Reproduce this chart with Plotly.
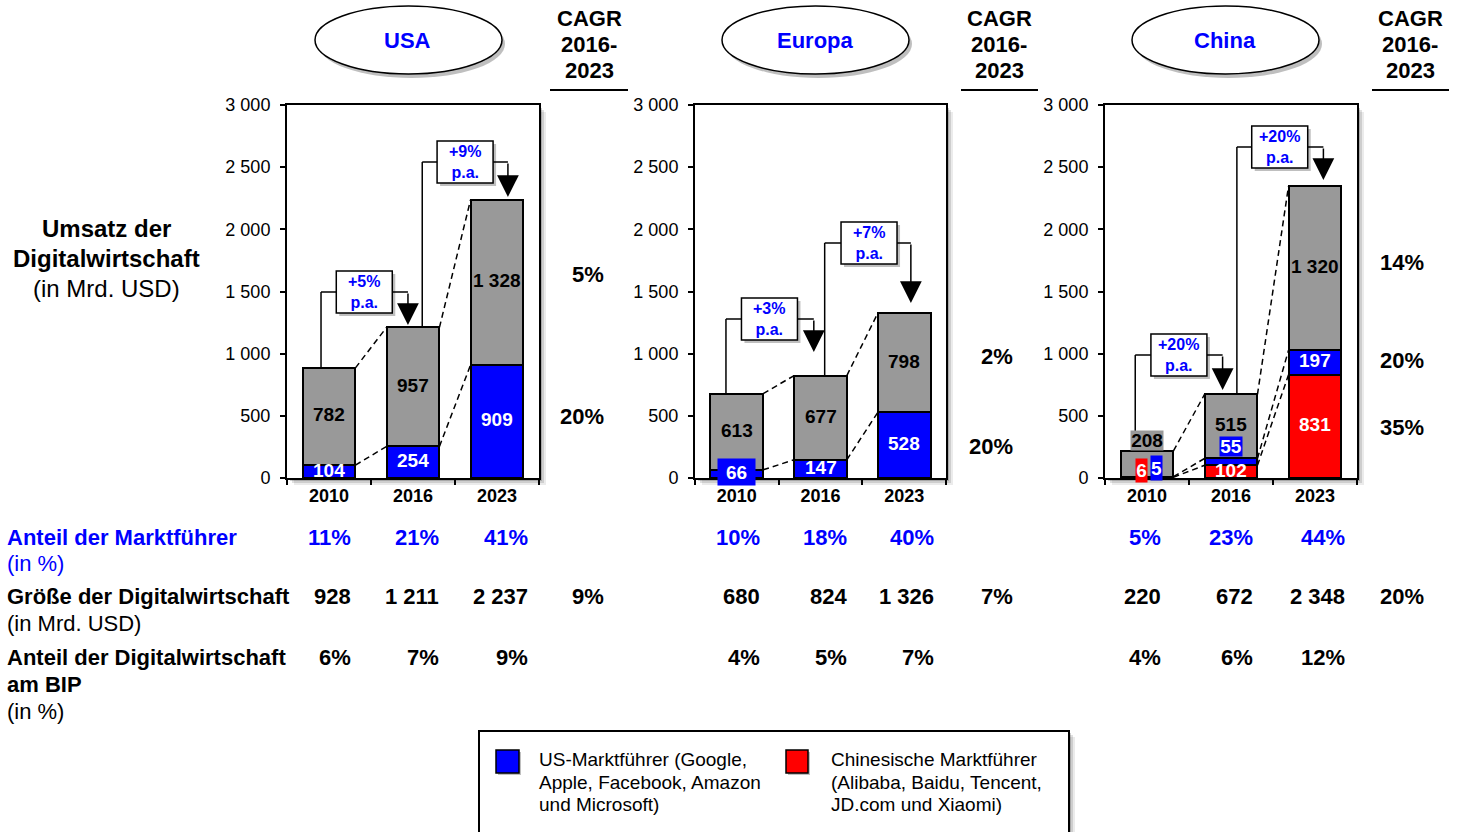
import plotly.graph_objects as go

W, H = 1459, 832
FONT = "Liberation Sans, Arial, Helvetica, sans-serif"
BLUE, RED, GRAY = "#0000FF", "#FF0000", "#999999"

# ---------------- data ----------------
years = ["2010", "2016", "2023"]

usa_leader = [104, 254, 909]
usa_rest = [782, 957, 1328]
eu_leader = [66, 147, 528]
eu_rest = [613, 677, 798]
cn_cn_leader = [6, 102, 831]
cn_us_leader = [5, 55, 197]
cn_rest = [208, 515, 1320]

usa_growth = ["+5%", "+9%"]
eu_growth = ["+3%", "+7%"]
cn_growth = ["+20%", "+20%"]

usa_cagr = ["20%", "5%"]          # bottom segment -> top segment
eu_cagr = ["20%", "2%"]
cn_cagr = ["35%", "20%", "14%"]

usa_share = ["11%", "21%", "41%"]
eu_share = ["10%", "18%", "40%"]
cn_share = ["5%", "23%", "44%"]

usa_size = [928, 1211, 2237]
eu_size = [680, 824, 1326]
cn_size = [220, 672, 2348]
usa_size_cagr, eu_size_cagr, cn_size_cagr = "9%", "7%", "20%"

usa_gdp = ["6%", "7%", "9%"]
eu_gdp = ["4%", "5%", "7%"]
cn_gdp = ["4%", "6%", "12%"]

y_tick_vals = [0, 500, 1000, 1500, 2000, 2500, 3000]
y_tick_text = ["0", "500", "1 000", "1 500", "2 000", "2 500", "3 000"]

legend_us = ["US-Marktführer (Google,", "Apple, Facebook, Amazon", "und Microsoft)"]
legend_cn = ["Chinesische Marktführer", "(Alibaba, Baidu, Tencent,", "JD.com und Xiaomi)"]

# ---------------- layout helpers ----------------
def px(x):
    return x / W


def py(y):
    return 1 - y / H


def fmt(v):
    return f"{v:,}".replace(",", " ")


def text(x, y, t, size, color="black", xanchor="center", **kw):
    d = dict(xref="paper", yref="paper", x=px(x), y=py(y), text=t, showarrow=False,
             xanchor=xanchor, yanchor="middle", font=dict(family=FONT, size=size, color=color))
    d.update(kw)
    return d


BW = 0.63
PLOT_TOP, PLOT_BOT = 105, 478

regions = [
    dict(name="USA", x=(287, 539), segs=[(usa_leader, BLUE, "white"), (usa_rest, GRAY, "black")],
         growth=usa_growth, cagr=usa_cagr, cagr_shift=[5, 8], cagr_x=606,
         share=usa_share, size=usa_size, size_cagr=usa_size_cagr, gdp=usa_gdp,
         cols=[353, 441, 530], head_x=408, cagr_head_x=589, line=(550, 628),
         brackets=[dict(lx=-0.095, rx=0.94, level=1496, gap=20, bx=0.42),
                   dict(lx=1.11, rx=2.13, level=2541, gap=23, bx=1.62)]),
    dict(name="Europa", x=(695, 946), segs=[(eu_leader, BLUE, "white"), (eu_rest, GRAY, "black")],
         growth=eu_growth, cagr=eu_cagr, cagr_shift=[-1, 6], cagr_x=1015,
         share=eu_share, size=eu_size, size_cagr=eu_size_cagr, gdp=eu_gdp,
         cols=[762, 849, 936], head_x=815, cagr_head_x=999, line=(961, 1038),
         brackets=[dict(lx=-0.13, rx=0.92, level=1279, gap=189, bx=0.39),
                   dict(lx=1.05, rx=2.08, level=1890, gap=82, bx=1.58)]),
    dict(name="China", x=(1105, 1357),
         segs=[(cn_cn_leader, RED, "white"), (cn_us_leader, BLUE, "white"), (cn_rest, GRAY, "black")],
         growth=cn_growth, cagr=cn_cagr, cagr_shift=[-1, 2, 6], cagr_x=1426,
         share=cn_share, size=cn_size, size_cagr=cn_size_cagr, gdp=cn_gdp,
         cols=[1163, 1255, 1347], head_x=1225, cagr_head_x=1410, line=(1372, 1449),
         brackets=[dict(lx=-0.14, rx=0.9, level=989, gap=36, bx=0.38),
                   dict(lx=1.07, rx=2.1, level=2662, gap=49, bx=1.58)]),
]

# special label styles: (region, segment, bar) -> options
special = {
    ("Europa", 0, 0): dict(bgcolor=BLUE, width=37, height=26, yshift=2),
    ("China", 0, 0): dict(bgcolor=RED, width=11, height=23, xshift=-5.5, yshift=7.5),
    ("China", 1, 0): dict(bgcolor=BLUE, width=11, height=24, xshift=9.5, yshift=9),
    ("China", 1, 1): dict(bgcolor=BLUE, width=22, height=19, yshift=15),
    ("China", 2, 0): dict(bgcolor=GRAY, width=32, height=19, on_top=True),
}

fig = go.Figure()
shapes, annos = [], []
layout_axes = {}

for k, r in enumerate(regions, start=1):
    xa = "x" if k == 1 else f"x{k}"
    ya = "y" if k == 1 else f"y{k}"
    x0p, x1p = r["x"]

    # frame shadow + white plot area
    for off, a in [(7, 0.08), (5, 0.12), (3, 0.18)]:
        shapes.append(dict(type="rect", xref="paper", yref="paper", layer="below",
                           x0=px(x0p + off), x1=px(x1p + off), y0=py(PLOT_BOT + off), y1=py(PLOT_TOP + off),
                           line=dict(width=0), fillcolor=f"rgba(0,0,0,{a})"))
    shapes.append(dict(type="rect", xref="paper", yref="paper", layer="below",
                       x0=px(x0p), x1=px(x1p), y0=py(PLOT_BOT), y1=py(PLOT_TOP),
                       line=dict(width=0), fillcolor="white"))

    # bars
    base = [0, 0, 0]
    tops = []
    for s, (vals, col, tcol) in enumerate(r["segs"]):
        fig.add_trace(go.Bar(x=[0, 1, 2], y=vals, width=BW, marker=dict(color=col, line=dict(color="black", width=2)),
                             xaxis=xa, yaxis=ya, showlegend=False, hoverinfo="skip"))
        for i, v in enumerate(vals):
            opt = special.get((r["name"], s, i), {})
            a = dict(xref=xa, yref=ya, x=i, y=base[i] + v / 2, text=f"<b>{fmt(v)}</b>", showarrow=False,
                     xanchor="center", yanchor="middle", yshift=1.5,
                     font=dict(family=FONT, size=19, color=tcol))
            if opt.get("on_top"):
                a["y"] = base[i] + v
                a["yanchor"] = "bottom"
                a["yshift"] = 0
            for key in ("bgcolor", "width", "height", "xshift", "yshift"):
                if key in opt:
                    a[key] = opt[key]
            if "bgcolor" in opt:
                a["borderpad"] = 0
            annos.append(a)
        base = [b + v for b, v in zip(base, vals)]
        tops.append(list(base))

    # dashed connectors between consecutive bars
    for lvl in tops:
        for i in range(2):
            fig.add_trace(go.Scatter(x=[i + BW / 2, i + 1 - BW / 2], y=[lvl[i], lvl[i + 1]], mode="lines",
                                     line=dict(color="black", width=1.5, dash="6px,4px"),
                                     xaxis=xa, yaxis=ya, showlegend=False, hoverinfo="skip"))

    totals = tops[-1]
    # growth brackets
    for i, (b, g) in enumerate(zip(r["brackets"], r["growth"])):
        shapes.append(dict(type="line", xref=xa, yref=ya, x0=b["lx"], x1=b["lx"], y0=totals[i], y1=b["level"],
                           line=dict(color="black", width=1.5)))
        shapes.append(dict(type="line", xref=xa, yref=ya, x0=b["lx"], x1=b["rx"], y0=b["level"], y1=b["level"],
                           line=dict(color="black", width=1.5)))
        annos.append(dict(xref=xa, yref=ya, x=b["rx"], y=totals[i + 1] + b["gap"], axref=xa, ayref=ya,
                          ax=b["rx"], ay=b["level"], text="", showarrow=True, arrowhead=2, arrowsize=2.9,
                          arrowwidth=1.5, arrowcolor="black"))
        # box shadow and box (pixel-sized shapes anchored in data coords)
        for (dx, dy, fill, lw) in [(3, -3, "rgba(0,0,0,0.25)", 0), (0, 0, "white", 1.5)]:
            shapes.append(dict(type="rect", xref=xa, yref=ya, xsizemode="pixel", ysizemode="pixel",
                               xanchor=b["bx"], yanchor=b["level"], x0=-28 + dx, x1=28 + dx,
                               y0=-21 + dy, y1=21 + dy, fillcolor=fill,
                               line=dict(color="black", width=lw)))
        annos.append(dict(xref=xa, yref=ya, x=b["bx"], y=b["level"], text=f"<b>{g}<br>p.a.</b>",
                          showarrow=False, xanchor="center", yanchor="middle",
                          font=dict(family=FONT, size=16, color=BLUE)))

    # CAGR values beside the plot (aligned with 2023 segments)
    for s, (txt, sh) in enumerate(zip(r["cagr"], r["cagr_shift"])):
        lo = tops[s - 1][2] if s > 0 else 0
        hi = tops[s][2]
        annos.append(dict(xref="paper", yref=ya, x=px(r["cagr_x"]), y=(lo + hi) / 2, yshift=sh,
                          xanchor="right", yanchor="middle", text=f"<b>{txt}</b>", showarrow=False,
                          font=dict(family=FONT, size=22, color="black")))

    # header ellipse
    hx = r["head_x"]
    shapes.append(dict(type="circle", xref="paper", yref="paper", layer="below",
                       x0=px(hx - 93 + 3), x1=px(hx + 94 + 3), y0=py(74 + 4), y1=py(6 + 4),
                       line=dict(width=0), fillcolor="rgba(0,0,0,0.25)"))
    shapes.append(dict(type="circle", xref="paper", yref="paper", layer="below",
                       x0=px(hx - 93), x1=px(hx + 94), y0=py(74), y1=py(6),
                       line=dict(color="black", width=1.5), fillcolor="white"))
    annos.append(text(hx, 40, f"<b>{r['name']}</b>", 22, BLUE))
    for t, yy in zip(["CAGR", "2016-", "2023"], [18, 44, 70]):
        annos.append(text(r["cagr_head_x"], yy, f"<b>{t}</b>", 22))
    shapes.append(dict(type="line", xref="paper", yref="paper", x0=px(r["line"][0]), x1=px(r["line"][1]),
                       y0=py(90), y1=py(90), line=dict(color="black", width=2)))

    # table values
    for xr, s1, s2, s3 in zip(r["cols"], r["share"], r["size"], r["gdp"]):
        annos.append(text(xr, 537, f"<b>{s1}</b>", 22, BLUE, xanchor="right"))
        annos.append(text(xr, 596, f"<b>{fmt(s2)}</b>", 22, xanchor="right"))
        annos.append(text(xr, 657, f"<b>{s3}</b>", 22, xanchor="right"))
    annos.append(text(r["cagr_x"], 596, f"<b>{r['size_cagr']}</b>", 22, xanchor="right"))

    # axes
    layout_axes["xaxis" if k == 1 else f"xaxis{k}"] = dict(
        domain=[px(x0p), px(x1p)], range=[-0.5, 2.5], anchor=ya, tickvals=[0, 1, 2],
        ticktext=[f"<b>{y}</b>" for y in years], tickfont=dict(family=FONT, size=18, color="black"),
        ticks="", showline=True, mirror=True, linecolor="black", linewidth=2, showgrid=False, zeroline=False,
        ticklabelstandoff=0, automargin=False,
        minor=dict(tickvals=[-0.5, 0.5, 1.5, 2.5], ticks="outside", ticklen=5, tickwidth=1.5,
                   tickcolor="black", showgrid=False),
        fixedrange=True)
    layout_axes["yaxis" if k == 1 else f"yaxis{k}"] = dict(
        domain=[py(PLOT_BOT), py(PLOT_TOP)], range=[0, 3000], anchor=xa, tickvals=y_tick_vals,
        ticktext=y_tick_text, tickfont=dict(family=FONT, size=18, color="black"), ticks="outside", ticklen=5,
        tickwidth=1.5, tickcolor="black", showline=True, mirror=True, linecolor="black", linewidth=2,
        showgrid=False, zeroline=False, ticklabelstandoff=6, automargin=False, fixedrange=True)

# left side labels
for t, yy, bold in [("Umsatz der", 228, True), ("Digitalwirtschaft", 258, True), ("(in Mrd. USD)", 289, False)]:
    annos.append(text(106, yy, f"<b>{t}</b>" if bold else t, 24))

row_labels = [("Anteil der Marktführer", 537, True, BLUE), ("(in %)", 563, False, BLUE),
              ("Größe der Digitalwirtschaft", 596, True, "black"), ("(in Mrd. USD)", 623, False, "black"),
              ("Anteil der Digitalwirtschaft", 657, True, "black"), ("am BIP", 684, True, "black"),
              ("(in %)", 711, False, "black")]
for t, yy, bold, col in row_labels:
    annos.append(text(5, yy, f"<b>{t}</b>" if bold else t, 22, col, xanchor="left"))

# legend box
for off, a in [(6, 0.08), (4, 0.12), (2, 0.18)]:
    shapes.append(dict(type="rect", xref="paper", yref="paper", layer="below", x0=px(479 + off), x1=px(1069 + off),
                       y0=py(845), y1=py(731 + off), line=dict(width=0), fillcolor=f"rgba(0,0,0,{a})"))
shapes.append(dict(type="rect", xref="paper", yref="paper", layer="below", x0=px(479), x1=px(1069),
                   y0=py(845), y1=py(731), line=dict(color="black", width=2), fillcolor="white"))
for (x0s, x1s), col in [((496, 519), BLUE), ((786, 808), RED)]:
    shapes.append(dict(type="rect", xref="paper", yref="paper", x0=px(x0s + 2), x1=px(x1s + 2), y0=py(775),
                       y1=py(752), line=dict(width=0), fillcolor="rgba(0,0,0,0.25)"))
    shapes.append(dict(type="rect", xref="paper", yref="paper", x0=px(x0s), x1=px(x1s), y0=py(773), y1=py(750),
                       line=dict(color="black", width=1.5), fillcolor=col))
for lines, xx in [(legend_us, 537), (legend_cn, 829)]:
    for t, yy in zip(lines, [759, 782, 804]):
        annos.append(text(xx, yy, t, 19, xanchor="left"))

fig.update_layout(
    width=W, height=H, margin=dict(l=0, r=0, t=0, b=0, autoexpand=False), barmode="stack",
    paper_bgcolor="white", plot_bgcolor="rgba(0,0,0,0)", showlegend=False,
    font=dict(family=FONT), shapes=shapes, annotations=annos, **layout_axes)

fig.write_html("out.html")
